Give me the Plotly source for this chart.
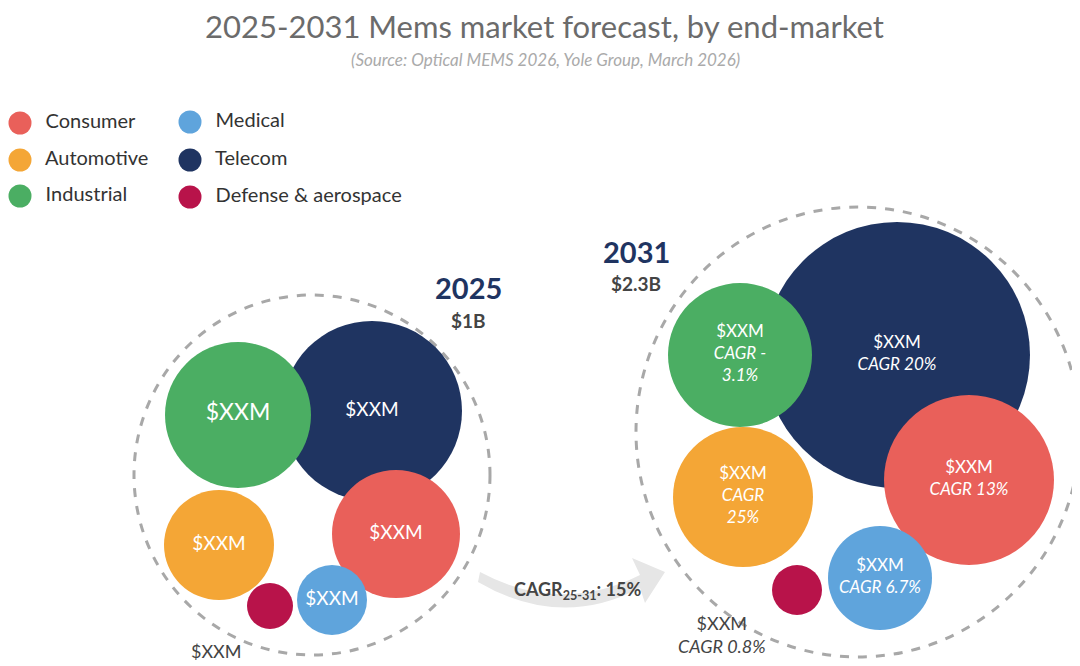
import plotly.graph_objects as go

segments = ["Consumer", "Automotive", "Industrial", "Medical", "Telecom", "Defense & aerospace"]
colors = {"Consumer": "#E9605A", "Automotive": "#F4A636", "Industrial": "#4BAE63",
          "Medical": "#5FA4DC", "Telecom": "#1F3461", "Defense & aerospace": "#B8134A"}

# 2025 bubbles (drawing order: Telecom first)
b25_seg = ["Telecom", "Industrial", "Automotive", "Consumer", "Medical", "Defense & aerospace"]
b25_x = [372, 238, 219, 396, 332, 270]
b25_y = [411, 415, 545, 534, 600, 606]
b25_d = [180, 146, 110, 128, 70, 46]
b25_txt = ["$XXM", "<span style='font-size:23px'>$XXM</span>", "$XXM", "$XXM", "$XXM", " "]

# 2031 bubbles
b31_seg = ["Telecom", "Industrial", "Automotive", "Consumer", "Medical", "Defense & aerospace"]
b31_x = [897, 740, 743, 969, 880, 797]
b31_y = [355, 355, 497, 480, 578, 590]
b31_d = [266, 144, 140, 170, 104, 50]
b31_txt = ["$XXM<br><i>CAGR 20%</i>", "$XXM<br><i>CAGR -<br>3.1%</i>", "$XXM<br><i>CAGR<br>25%</i>",
           "$XXM<br><i>CAGR 13%</i>", "$XXM<br><i>CAGR 6.7%</i>", " "]

fig = go.Figure()
FONT = "Lato"

def bubbles(xs, ys, ds, segs, txts, size):
    fig.add_trace(go.Scatter(x=xs, y=ys, mode="markers+text",
        marker=dict(size=ds, color=[colors[s] for s in segs], line=dict(width=0), opacity=1),
        text=txts, textposition="middle center",
        textfont=dict(color="white", size=size, family=FONT), hoverinfo="skip", showlegend=False))

bubbles(b25_x, b25_y, b25_d, b25_seg, b25_txt, 19)
bubbles(b31_x, b31_y, b31_d, b31_seg, b31_txt, 17)

# legend
leg_x = [20, 20, 20, 190, 190, 190]
leg_y = [123, 160, 196, 122, 160, 197]
fig.add_trace(go.Scatter(x=leg_x, y=leg_y, mode="markers+text",
    marker=dict(size=23, color=[colors[s] for s in segments]),
    text=["  " + s for s in segments], textposition="middle right",
    textfont=dict(size=20, color="#333", family=FONT), hoverinfo="skip", showlegend=False))

shapes = [
    dict(type="circle", xref="x", yref="y", x0=312-178, x1=312+178, y0=475-180, y1=475+180,
         line=dict(color="#A8A8A8", width=3, dash="dash"), layer="below"),
    dict(type="circle", xref="x", yref="y", x0=858-222, x1=858+222, y0=432-225, y1=432+225,
         line=dict(color="#A8A8A8", width=3, dash="dash"), layer="below"),
    dict(type="path", path="M 480,572 Q 560,615 640,575 L 632,558 L 665,572 L 645,603 L 640,588 Q 560,630 478,582 Z",
         fillcolor="#E6E6E6", line=dict(width=0), layer="below"),
]

ann = [
    dict(x=544, y=26, text="2025-2031 Mems market forecast, by end-market",
         font=dict(size=31, color="#6B6B6B", family=FONT)),
    dict(x=545, y=59, text="<i>(Source: Optical MEMS 2026, Yole Group, March 2026)</i>",
         font=dict(size=17, color="#AAAAAA", family=FONT)),
    dict(x=468, y=287, text="<b>2025</b>", font=dict(size=29, color="#1F3461", family=FONT)),
    dict(x=468, y=320, text="<b>$1B</b>", font=dict(size=19, color="#444", family=FONT)),
    dict(x=636, y=251, text="<b>2031</b>", font=dict(size=29, color="#1F3461", family=FONT)),
    dict(x=636, y=283, text="<b>$2.3B</b>", font=dict(size=19, color="#444", family=FONT)),
    dict(x=577, y=590, text="<b>CAGR<sub>25-31</sub>: 15%</b>", font=dict(size=18, color="#444", family=FONT)),
    dict(x=216, y=651, text="$XXM", font=dict(size=18, color="#444", family=FONT)),
    dict(x=722, y=634, text="$XXM<br><i>CAGR 0.8%</i>", font=dict(size=18, color="#444", family=FONT)),
]
for a in ann:
    a.update(xref="x", yref="y", showarrow=False)

# page body has an 8px margin; shift the coordinate system so picture pixels match
fig.update_layout(width=1080, height=666, margin=dict(l=0, r=0, t=0, b=0),
    plot_bgcolor="white", paper_bgcolor="white", shapes=shapes, annotations=ann,
    xaxis=dict(range=[8, 1088], visible=False, fixedrange=True),
    yaxis=dict(range=[674, 8], visible=False, fixedrange=True))
fig.write_html("out.html")
